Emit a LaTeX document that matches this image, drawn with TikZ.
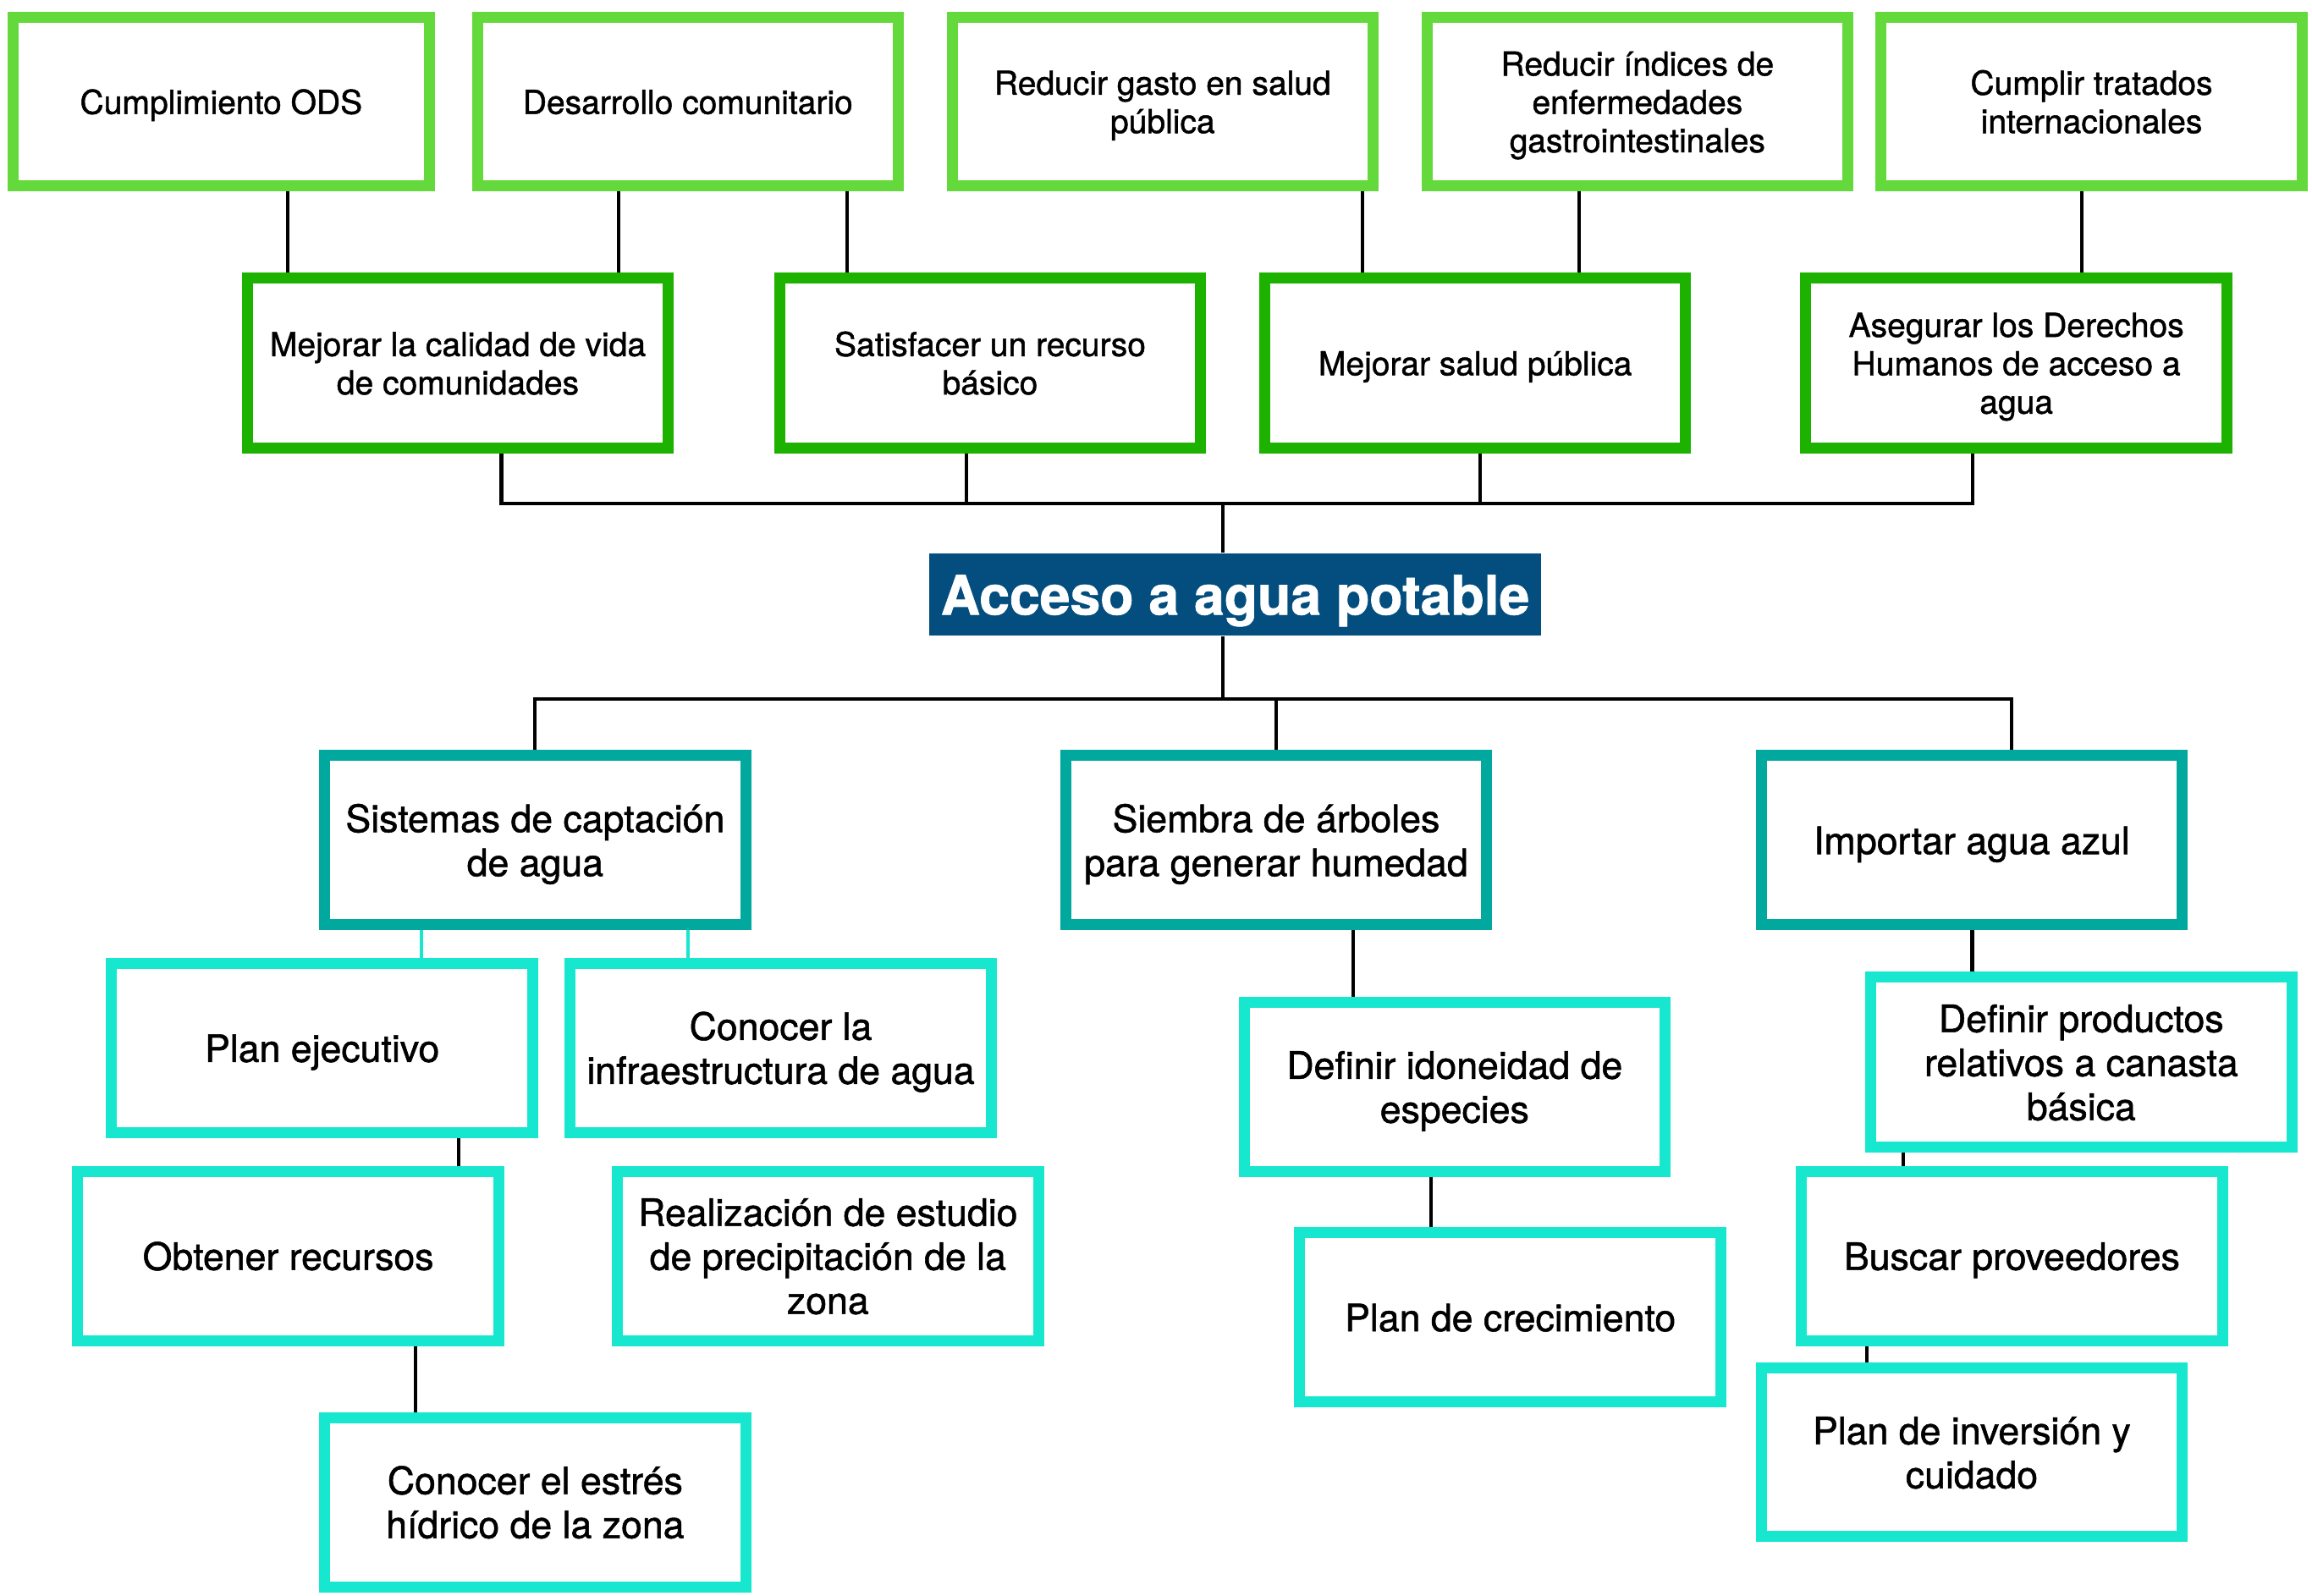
\documentclass[tikz,border=0pt]{standalone}
\usepackage{fontspec}
\setmainfont{TeX Gyre Heros}[FakeBold=1.2]
\definecolor{cLime}{HTML}{63D93B}
\definecolor{cGreen}{HTML}{1DB100}
\definecolor{cTeal}{HTML}{00A89D}
\definecolor{cCyan}{HTML}{18E7CF}
\definecolor{cNavy}{HTML}{034E7E}
\newcommand\bx[7]{\node[#6, minimum width={(#4-#2-7.5)*0.017423cm}, minimum height={(#5-#3-7.5)*0.017423cm}] (#1) at ({(#2+#4)/2},{(#3+#5)/2}) {\raisebox{-0.136em}[\height][\depth]{\begin{tabular}{@{}c@{}}#7\end{tabular}}};}
\tikzset{
  box/.style={draw, line width=3.7pt, fill=white, inner sep=0pt, text=black},
  topbox/.style={box, draw=cLime, font=\fontsize{11.1}{12.9}\selectfont},
  midbox/.style={box, draw=cGreen, font=\fontsize{11.1}{12.9}\selectfont},
  tealbox/.style={box, draw=cTeal, font=\fontsize{12.7}{14.8}\selectfont},
  cyanbox/.style={box, draw=cCyan, font=\fontsize{12.7}{14.8}\selectfont},
  titlebox/.style={fill=cNavy, text=white, inner sep=0pt, font=\fontsize{18.3}{21.4}\selectfont\bfseries},
  wire/.style={line width=1.2pt, draw=black, line join=miter},
  cwire/.style={line width=1.2pt, draw=cCyan},
}
\begin{document}
\begin{tikzpicture}[x=0.017423cm, y=-0.017423cm]
\useasboundingbox (0,0) rectangle (1568,1082);
% top row
\bx{T1}{5}{8}{295}{130}{topbox}{Cumplimiento ODS}
\bx{T2}{320}{8}{613}{130}{topbox}{Desarrollo comunitario}
\bx{T3}{642}{8}{935}{130}{topbox}{Reducir gasto en salud\\pública}
\bx{T4}{964}{8}{1257}{130}{topbox}{Reducir índices de\\enfermedades\\gastrointestinales}
\bx{T5}{1272}{8}{1565}{130}{topbox}{Cumplir tratados\\internacionales}
% second row
\bx{S1}{164}{185}{457}{307.5}{midbox}{Mejorar la calidad de vida\\de comunidades}
\bx{S2}{525}{185}{818}{307.5}{midbox}{Satisfacer un recurso\\básico}
\bx{S3}{854}{185}{1147}{307.5}{midbox}{Mejorar salud pública}
\bx{S4}{1221}{185}{1514}{307.5}{midbox}{Asegurar los Derechos\\Humanos de acceso a\\agua}
% title
\node[titlebox, minimum width={415*0.017423cm}, minimum height={55.6*0.017423cm}] (title) at (837.7,403.2) {\raisebox{-0.136em}[\height][\depth]{\begin{tabular}{@{}c@{}}Acceso a agua potable\end{tabular}}};
% third row
\bx{M1}{216.5}{508.6}{509.4}{631}{tealbox}{Sistemas de captación\\de agua}
\bx{M2}{719}{508.6}{1012}{631}{tealbox}{Siembra de árboles\\para generar humedad}
\bx{M3}{1190.8}{508.6}{1483.7}{631}{tealbox}{Importar agua azul}
% left branch
\bx{P1}{72}{649.5}{365}{772}{cyanbox}{Plan ejecutivo}
\bx{P2}{383}{649.5}{676}{772}{cyanbox}{Conocer la\\infraestructura de agua}
\bx{P3}{49}{790.7}{342}{913}{cyanbox}{Obtener recursos}
\bx{P4}{415}{790.7}{708}{913}{cyanbox}{Realización de estudio\\de precipitación de la\\zona}
\bx{P5}{216.5}{957.6}{509.4}{1080}{cyanbox}{Conocer el estrés\\hídrico de la zona}
% middle branch
\bx{Q1}{840}{676}{1133}{798.2}{cyanbox}{Definir idoneidad de\\especies}
\bx{Q2}{877.6}{832.3}{1171}{954.5}{cyanbox}{Plan de crecimiento}
% right branch
\bx{R1}{1265}{659}{1558}{781.8}{cyanbox}{Definir productos\\relativos a canasta\\básica}
\bx{R2}{1218}{790.7}{1511}{913}{cyanbox}{Buscar proveedores}
\bx{R3}{1190.8}{924}{1483.7}{1046}{cyanbox}{Plan de inversión y\\cuidado}
% connectors top -> second row
\draw[wire] (T1.south -| 195,0) -- (S1.north -| 195,0);
\draw[wire] (T2.south -| 419.5,0) -- (S1.north -| 419.5,0);
\draw[wire] (T2.south -| 574.6,0) -- (S2.north -| 574.6,0);
\draw[wire] (T3.south -| 924,0) -- (S3.north -| 924,0);
\draw[wire] (T4.south -| 1071,0) -- (S3.north -| 1071,0);
\draw[wire] (T5.south -| 1412,0) -- (S4.north -| 1412,0);
% bus 1
\coordinate (j1) at (829.5,341.3);
\draw[wire] (S1.south -| 340,0) |- (j1) -| (S4.south -| 1338,0);
\draw[wire] (S2.south -| 655.4,0) -- (j1 -| 655.4,0);
\draw[wire] (S3.south -| 1004,0) -- (j1 -| 1004,0);
\draw[wire] (j1) -- (title.north -| j1);
% bus 2
\coordinate (j2) at (829.5,473.9);
\draw[wire] (title.south -| j2) -- (j2);
\draw[wire] (M1.north -| 362.9,0) |- (j2) -| (M3.north -| 1364.4,0);
\draw[wire] (M2.north -| 865.3,0) -- (j2 -| 865.3,0);
% lower connectors
\draw[cwire] (M1.south -| 286,0) -- (P1.north -| 286,0);
\draw[cwire] (M1.south -| 466.8,0) -- (P2.north -| 466.8,0);
\draw[wire] (P1.south -| 311,0) -- (P3.north -| 311,0);
\draw[wire] (P3.south -| 282,0) -- (P5.north -| 282,0);
\draw[wire] (M2.south -| 917.7,0) -- (Q1.north -| 917.7,0);
\draw[wire] (Q1.south -| 970.6,0) -- (Q2.north -| 970.6,0);
\draw[wire] (M3.south -| 1337.6,0) -- (R1.north -| 1337.6,0);
\draw[wire] (R1.south -| 1291,0) -- (R2.north -| 1291,0);
\draw[wire] (R2.south -| 1266,0) -- (R3.north -| 1266,0);
\end{tikzpicture}
\end{document}
